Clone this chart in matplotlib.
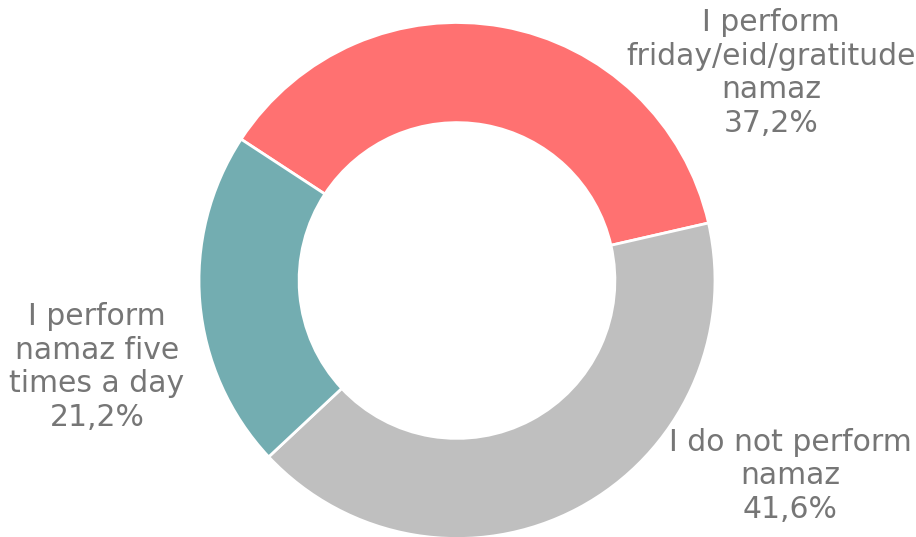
import matplotlib
matplotlib.use("Agg")
import matplotlib.pyplot as plt

labels = ["I perform\nfriday/eid/gratitude\nnamaz", "I do not perform\nnamaz", "I perform\nnamaz five\ntimes a day"]
values = [37.2, 41.6, 21.2]
colors = ["#FF7171", "#BFBFBF", "#73ADB1"]

W, H = 916, 537
fig = plt.figure(figsize=(W / 100, H / 100), dpi=100)
ax = fig.add_axes([0, 0, 1, 1])
ax.set_xlim(0, W)
ax.set_ylim(0, H)
ax.set_aspect("equal")
ax.axis("off")

cx, cy, r = 457, H - 280.5, 258
ax.pie(values, colors=colors, startangle=146.8, counterclock=False,
       center=(cx, cy), radius=r,
       wedgeprops=dict(width=r * 0.388, edgecolor="white", linewidth=2))
ax.set_xlim(0, W)
ax.set_ylim(0, H)

label_pos = [(771, H - 73), (790, H - 476), (97, H - 367)]
for lab, v, (x, y) in zip(labels, values, label_pos):
    txt = lab + "\n" + f"{v:.1f}".replace(".", ",") + "%"
    ax.text(x, y, txt, ha="center", va="center", fontsize=21.5, color="#767676",
            family="DejaVu Sans", linespacing=1.2)

fig.savefig("out.png", dpi=100)
